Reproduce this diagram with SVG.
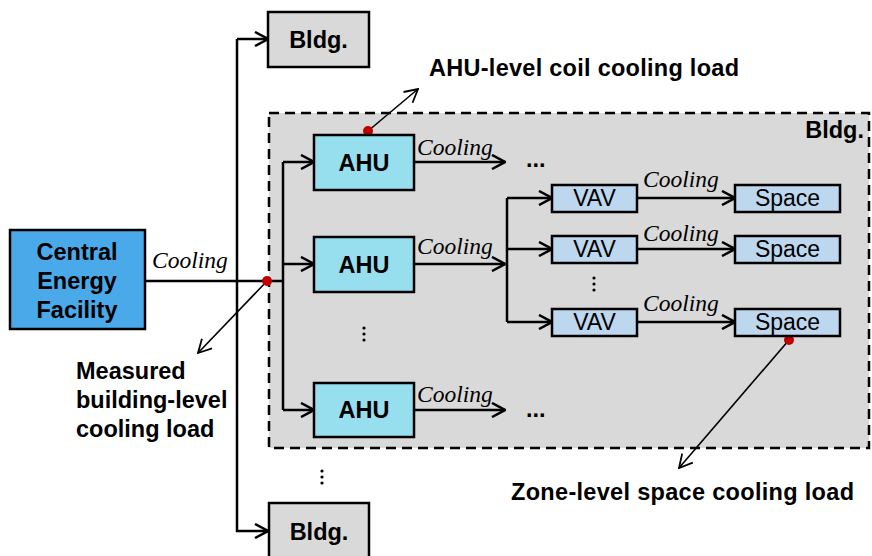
<svg xmlns="http://www.w3.org/2000/svg" width="872" height="556" viewBox="0 0 872 556">
<defs>
<style>
.bx{stroke:#000;stroke-width:2.5}
.gray{fill:#d9d9d9}
.cef{fill:#4aa9e9}
.ahu{fill:#97dfee}
.vav{fill:#bdd7ee}
.b{font-family:"Liberation Sans",Arial,sans-serif;font-weight:bold;font-size:23.5px;fill:#000}
.r{font-family:"Liberation Sans",Arial,sans-serif;font-size:23px;fill:#000}
.c{font-family:"Liberation Serif","Times New Roman",serif;font-style:italic;font-size:23.5px;fill:#000}
.ln{fill:none;stroke:#000;stroke-width:2.5}
.th{fill:none;stroke:#000;stroke-width:1.6}
.dot{fill:#c00000}
</style>
<marker id="ah" markerUnits="userSpaceOnUse" viewBox="0 0 16 16" refX="15" refY="8" markerWidth="16" markerHeight="16" orient="auto">
<path d="M2,1 L15,8 L2,15" fill="none" stroke="#000" stroke-width="2.5"/>
</marker>
<marker id="ah2" markerUnits="userSpaceOnUse" viewBox="0 0 16 16" refX="15" refY="8" markerWidth="16" markerHeight="16" orient="auto">
<path d="M2,1 L15,8 L2,15" fill="none" stroke="#000" stroke-width="1.8"/>
</marker>
</defs>
<rect width="872" height="556" fill="#fff"/>

<g id="bldg-frame">
<rect x="269" y="113" width="600" height="335" class="gray" stroke="#000" stroke-width="2.5" stroke-dasharray="10,6"/>
<text x="864" y="138" class="b" text-anchor="end">Bldg.</text>
</g>

<g id="connectors">
<path class="ln" d="M145,281 H283"/>
<path class="ln" d="M237,39 V531 H268" marker-end="url(#ah)"/>
<path class="ln" d="M237,39 H268" marker-end="url(#ah)"/>
<path class="ln" d="M283,162 V410"/>
<path class="ln" d="M283,162 H314" marker-end="url(#ah)"/>
<path class="ln" d="M283,264 H314" marker-end="url(#ah)"/>
<path class="ln" d="M283,410 H314" marker-end="url(#ah)"/>
<path class="ln" d="M414,162 H505" marker-end="url(#ah)"/>
<path class="ln" d="M414,264 H505" marker-end="url(#ah)"/>
<path class="ln" d="M414,410 H505" marker-end="url(#ah)"/>
<path class="ln" d="M507,198 V322"/>
<path class="ln" d="M507,198 H552" marker-end="url(#ah)"/>
<path class="ln" d="M507,249 H552" marker-end="url(#ah)"/>
<path class="ln" d="M507,322 H552" marker-end="url(#ah)"/>
<path class="ln" d="M637,198 H735" marker-end="url(#ah)"/>
<path class="ln" d="M637,249 H735" marker-end="url(#ah)"/>
<path class="ln" d="M637,322 H735" marker-end="url(#ah)"/>
<path class="th" d="M267,281 L198,353" marker-end="url(#ah2)"/>
<path class="th" d="M368,131 L418,89" marker-end="url(#ah2)"/>
<path class="th" d="M789,340 L679,468" marker-end="url(#ah2)"/>
<text x="152" y="268" class="c">Cooling</text>
<text x="417" y="155" class="c">Cooling</text>
<text x="417" y="254" class="c">Cooling</text>
<text x="417" y="402" class="c">Cooling</text>
<text x="643" y="187" class="c">Cooling</text>
<text x="643" y="241" class="c">Cooling</text>
<text x="643" y="311" class="c">Cooling</text>
<text x="526" y="167" class="b" font-size="18">...</text>
<text x="526" y="417" class="b" font-size="18">...</text>
<circle cx="364" cy="328" r="1.6"/><circle cx="364" cy="334" r="1.6"/><circle cx="364" cy="340" r="1.6"/>
<circle cx="594" cy="278" r="1.6"/><circle cx="594" cy="284" r="1.6"/><circle cx="594" cy="290" r="1.6"/>
<circle cx="322" cy="471" r="1.6"/><circle cx="322" cy="477" r="1.6"/><circle cx="322" cy="483" r="1.6"/>
<circle class="dot" cx="267" cy="281" r="5"/>
<circle class="dot" cx="368" cy="131" r="5"/>
<circle class="dot" cx="789" cy="340" r="5"/>
</g>

<g id="cef">
<rect x="10" y="230" width="135" height="99" class="bx cef"/>
<text x="77" y="260" class="b" text-anchor="middle">Central</text>
<text x="77" y="289" class="b" text-anchor="middle">Energy</text>
<text x="77" y="318" class="b" text-anchor="middle">Facility</text>
</g>
<g id="bldg-top">
<rect x="268" y="12" width="101" height="55" class="bx gray"/>
<text x="318.5" y="48" class="b" text-anchor="middle">Bldg.</text>
</g>
<g id="bldg-bottom">
<rect x="269" y="503" width="100" height="60" class="bx gray"/>
<text x="319" y="540" class="b" text-anchor="middle">Bldg.</text>
</g>
<g id="ahu1">
<rect x="314" y="135" width="100" height="55" class="bx ahu"/>
<text x="364" y="171" class="b" text-anchor="middle">AHU</text>
</g>
<g id="ahu2">
<rect x="314" y="237" width="100" height="55" class="bx ahu"/>
<text x="364" y="273" class="b" text-anchor="middle">AHU</text>
</g>
<g id="ahu3">
<rect x="314" y="383" width="100" height="54" class="bx ahu"/>
<text x="364" y="418" class="b" text-anchor="middle">AHU</text>
</g>
<g id="vav1">
<rect x="552" y="185" width="85" height="27" class="bx vav"/>
<text x="594.5" y="206" class="r" text-anchor="middle">VAV</text>
</g>
<g id="vav2">
<rect x="552" y="236" width="85" height="27" class="bx vav"/>
<text x="594.5" y="257" class="r" text-anchor="middle">VAV</text>
</g>
<g id="vav3">
<rect x="552" y="309" width="85" height="27" class="bx vav"/>
<text x="594.5" y="330" class="r" text-anchor="middle">VAV</text>
</g>
<g id="space1">
<rect x="735" y="185" width="105" height="27" class="bx vav"/>
<text x="787.5" y="206" class="r" text-anchor="middle">Space</text>
</g>
<g id="space2">
<rect x="735" y="236" width="105" height="27" class="bx vav"/>
<text x="787.5" y="257" class="r" text-anchor="middle">Space</text>
</g>
<g id="space3">
<rect x="735" y="309" width="105" height="27" class="bx vav"/>
<text x="787.5" y="330" class="r" text-anchor="middle">Space</text>
</g>

<g id="labels">
<text x="429" y="76" class="b" textLength="310">AHU-level coil cooling load</text>
<text x="76" y="379" class="b">Measured</text>
<text x="76" y="408" class="b">building-level</text>
<text x="76" y="437" class="b">cooling load</text>
<text x="511" y="500" class="b" textLength="343">Zone-level space cooling load</text>
</g>
</svg>
